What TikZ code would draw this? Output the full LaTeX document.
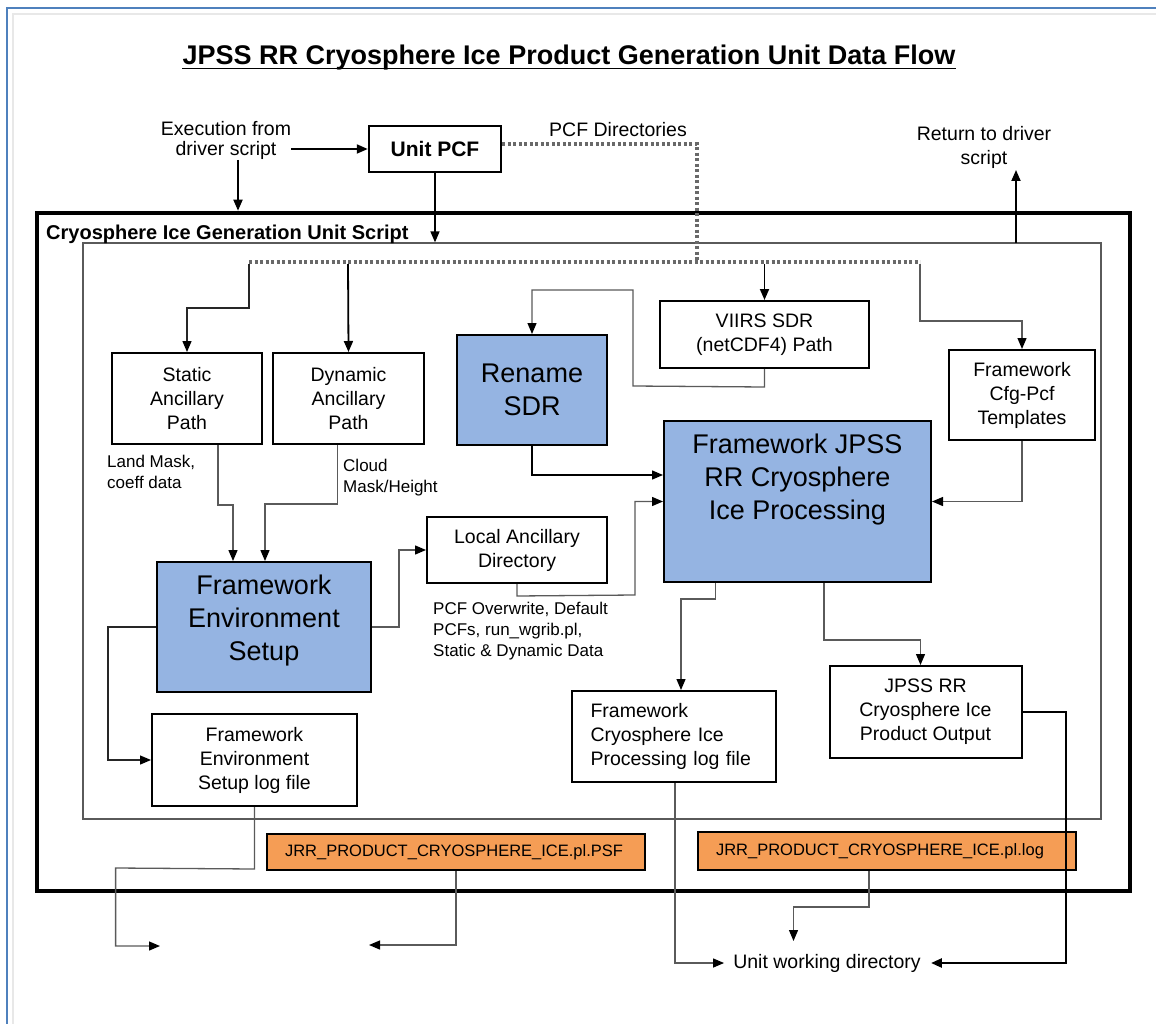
\documentclass[tikz,border=0pt]{standalone}
\usepackage{fontspec}
\setmainfont{Liberation Sans}
\usetikzlibrary{arrows.meta}
\definecolor{blueF}{RGB}{149,180,226}
\definecolor{orangeF}{RGB}{245,157,85}
\definecolor{lineG}{RGB}{90,90,90}
\definecolor{frameB}{RGB}{79,129,189}
\definecolor{frameG}{RGB}{232,232,232}
\definecolor{dotG}{RGB}{105,105,105}
\begin{document}
\begin{tikzpicture}[x=1pt,y=-1pt,
  >={Triangle[length=11pt,width=9pt,color=black]},
  fs/.style={font=\fontsize{19.5}{24}\selectfont},
  box/.style={draw=black, line width=2pt, inner sep=0pt, align=center, fs, fill=white},
  bluebox/.style={box, fill=blueF, font=\fontsize{27}{33}\selectfont},
  orangebox/.style={box, fill=orangeF, font=\fontsize{16.5}{20}\selectfont, inner xsep=18pt, text width=342pt, align=left},
  lbl/.style={inner sep=0pt, align=left, font=\fontsize{17}{21}\selectfont},
  txt/.style={inner sep=0pt, align=center, fs},
  bigtxt/.style={inner sep=0pt, align=center, font=\fontsize{27}{33}\selectfont},
  conn/.style={draw=lineG, line width=1.3pt, ->},
  connk/.style={draw=black, line width=1.8pt, ->},
  dots/.style={draw=dotG, line width=3.5pt, dash pattern=on 3.2pt off 2.3pt},
]
\useasboundingbox (0,0) rectangle (1156,1024);
\fill[white] (0,0) rectangle (1156,1024);
% screenshot frame
\draw[frameG, line width=2pt] (13,1024) -- (13,14) -- (1156,14);
\draw[frameB, line width=2.2pt] (7,1024) -- (7,8) -- (1156,8);

% title
\node[inner sep=0pt, anchor=base, font=\fontsize{27}{32}\selectfont\bfseries] (title) at (569,65) {JPSS RR Cryosphere Ice Product Generation Unit Data Flow};
\draw[line width=1.5pt] ([yshift=-3.5pt]title.base west) -- ([yshift=-3.5pt]title.base east);

% containers
\node[draw=black, line width=4pt, minimum width=1093pt, minimum height=678pt, inner sep=0pt] (outer) at (583.5,551.7) {};
\node[draw=lineG, line width=1.2pt, minimum width=1018pt, minimum height=576pt, inner sep=0pt] (inner) at (592,531) {};
\node[inner sep=0pt, anchor=west, font=\fontsize{20}{24}\selectfont\bfseries] (unitlbl) at (46,234.5) {Cryosphere Ice Generation Unit Script};

% top texts
\node[inner sep=0pt, align=center, font=\fontsize{19.5}{20}\selectfont] (exec) at (226,140) {Execution from\\driver script};
\node[draw=black, line width=2.5pt, inner sep=0pt, minimum width=132pt, minimum height=46pt, font=\fontsize{21}{24}\selectfont\bfseries] (pcf) at (435,149) {Unit PCF};
\node[txt] (pcfdir) at (618,130) {PCF Directories};
\node[txt] (ret) at (984,147) {Return to driver\\script};

% boxes
\node[box, minimum width=150pt, minimum height=91pt] (static) at (187,398.5) {Static\\Ancillary\\Path};
\node[box, minimum width=151pt, minimum height=91pt] (dyn) at (348.5,398.5) {Dynamic\\Ancillary\\Path};
\node[bluebox, minimum width=150pt, minimum height=110pt] (rename) at (532,390) {Rename\\SDR};
\node[box, minimum width=209pt, minimum height=67pt] (viirs) at (764.5,334.5) {VIIRS SDR\\(netCDF4) Path};
\node[box, minimum width=146pt, minimum height=90pt] (cfg) at (1022,395) {Framework\\Cfg-Pcf\\Templates};
\node[bluebox, minimum width=267pt, minimum height=161pt] (fw) at (797.5,501.5) {};
\node[bigtxt] (fwt) at (797.5,480) {Framework JPSS\\RR Cryosphere\\Ice Processing};
\node[box, minimum width=180pt, minimum height=66pt] (local) at (517,550) {Local Ancillary\\Directory};
\node[bluebox, minimum width=214pt, minimum height=130pt] (env) at (264,627) {};
\node[bigtxt] (envt) at (264,621) {Framework\\Environment\\Setup};
\node[box, minimum width=205pt, minimum height=92pt] (envlog) at (254.5,760) {Framework\\Environment\\Setup log file};
\node[box, minimum width=204pt, minimum height=91pt, inner xsep=18.5pt, text width=167pt, align=left] (proclog) at (674,736.5) {Framework\\Cryosphere Ice\\Processing log file};
\node[box, minimum width=192pt, minimum height=92pt] (output) at (925.5,712) {JPSS RR\\Cryosphere Ice\\Product Output};
\node[orangebox, minimum height=36pt] (psf) at (456,852) {JRR\_PRODUCT\_CRYOSPHERE\_ICE.pl.PSF};
\node[orangebox, minimum height=38pt] (logb) at (887,851) {JRR\_PRODUCT\_CRYOSPHERE\_ICE.pl.log};

% labels
\node[lbl, anchor=west] (lm) at (107,471.5) {Land Mask,\\coeff data};
\node[lbl, anchor=west] (cm) at (343,477.5) {Cloud\\Mask/Height};
\node[lbl, anchor=west] (pov) at (433,631) {PCF Overwrite, Default\\PCFs, run\_wgrib.pl,\\Static \& Dynamic Data};
\node[txt] (uwd) at (827,963) {Unit working directory};

% free ends
\coordinate (exD) at (238,160);
\coordinate (retA) at (1016,243);
\coordinate (retB) at (1016,170);
\coordinate (uwdIn) at (793.5,941);
\coordinate (outL) at (160,946);
\coordinate (outR) at (369,945);

% top connectors
\draw[connk, line width=2pt] (exec.east |- pcf.west) -- (pcf.west);
\draw[connk] (exD) -- (exD |- outer.north);
\draw[connk, line width=1.5pt] (pcf.south) -- (pcf.south |- inner.north);
\draw[connk] (retA) -- (retB);

% dotted PCF directory lines
\draw[dots] ([yshift=5pt]pcf.east) -- (697,144) -- (697,262);
\draw[dots] (249,262) -- (920,262);

% distribution
\draw[conn, draw=black!85] (249,264) -- (249,308) -| (static.north);
\draw[connk] (348,264) -- (dyn.north);
\draw[connk] (viirs.north |- 0,264) -- (viirs.north);
\draw[conn] (920,264) -- (920,321) -| (cfg.north);

% to environment setup
\draw[conn] ([xshift=31pt]static.south) -- ++(0,60) -| ([xshift=-31pt]env.north);
\draw[conn] ([xshift=-11pt]dyn.south) -- ++(0,59) -| ([xshift=1pt]env.north);

% rename path
\draw[conn] (viirs.south) -- ++(0,18) -- (633,386) -- (633,290) -| (rename.north);
\draw[conn, draw=black] (rename.south) |- ([yshift=26.5pt]fw.west);

% local ancillary
\draw[conn] (env.east) -- (399,627) |- (local.west);
\draw[conn] (local.south) -- ++(0,12) -- (635,595) |- (fw.west);
\draw[conn] (cfg.south) |- (fw.east);

% env log
\draw[conn, draw=black!85] (env.west) -- (108,627) |- (envlog.west);

% processing outputs
\draw[conn] ([xshift=-82pt]fw.south) -- ++(0,16) -| ([xshift=7pt]proclog.north);
\draw[conn] ([xshift=26.5pt]fw.south) -- ++(0,57) -| ([xshift=-5pt]output.north);

% to unit working directory
\draw[draw=black, line width=2.5pt, ->] (output.east) -- (1066,712) |- ([xshift=10pt]uwd.east);
\draw[conn] ([xshift=1pt]proclog.south) |- ([xshift=-9pt]uwd.west);
\draw[conn] ([xshift=-18pt]logb.south) -- ++(0,36) -| (uwdIn);

% outgoing arrows at the bottom left
\draw[conn] (envlog.south) -- ++(0,62) -- (115.6,868) |- (outL);
\draw[conn] (psf.south) |- (outR);
\end{tikzpicture}
\end{document}
